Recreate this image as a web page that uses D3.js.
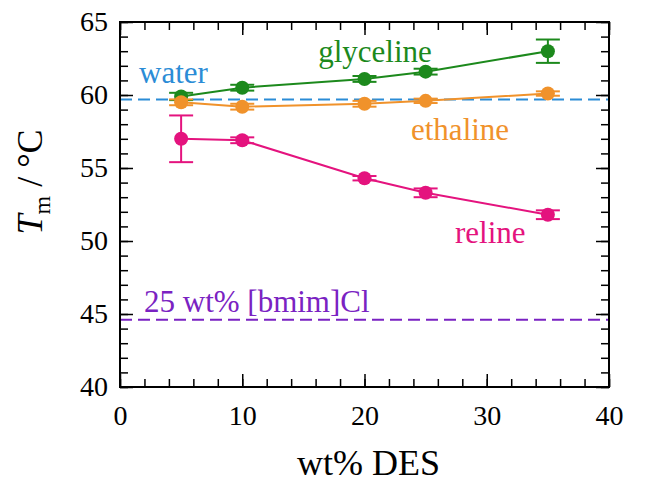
<!DOCTYPE html>
<html><head><meta charset="utf-8">
<script src="https://cdn.jsdelivr.net/npm/d3@7"></script>
<style>body{margin:0;background:#fff}text{font-family:"Liberation Serif","Times New Roman",serif}</style>
</head><body><svg id="c" width="656" height="484"></svg>
<script>
const xVals = [5, 10, 20, 25, 35];
const glyceline = [59.9, 60.5, 61.1, 61.6, 63.0];
const glycelineErr = [0.25, 0.2, 0.2, 0.2, 0.8];
const ethaline = [59.5, 59.2, 59.4, 59.6, 60.1];
const ethalineErr = [0.2, 0.2, 0.2, 0.15, 0.15];
const reline = [57.0, 56.9, 54.3, 53.3, 51.8];
const relineErr = [1.6, 0.2, 0.15, 0.3, 0.3];
const waterTm = 59.7;
const bmimTm = 44.6;
const xTicks = [0, 10, 20, 30, 40];
const yTicks = [40, 45, 50, 55, 60, 65];

const svg = d3.select("#c");
const L = 120, R = 609, T = 22, B = 387;
const x = d3.scaleLinear().domain([0, 40]).range([L, R]);
const y = d3.scaleLinear().domain([40, 65]).range([B, T]);

const cols = {gly: "#1c891c", eth: "#f0922b", rel: "#e4137e", water: "#2b8cd6", bmim: "#7a22c2"};

// reference lines
svg.append("line").attr("x1", x(0)).attr("x2", x(40)).attr("y1", y(waterTm)).attr("y2", y(waterTm))
  .attr("stroke", cols.water).attr("stroke-width", 2).attr("stroke-dasharray", "12,6");
svg.append("line").attr("x1", x(0)).attr("x2", x(40)).attr("y1", y(bmimTm)).attr("y2", y(bmimTm))
  .attr("stroke", cols.bmim).attr("stroke-width", 2).attr("stroke-dasharray", "12,6");

// axes with inward ticks
const minorX = d3.range(0, 41, 2), minorY = d3.range(40, 66, 1);
function tickAxis(axisFn, scale, vals, size, tr) {
  svg.append("g").attr("transform", tr)
    .call(axisFn(scale).tickValues(vals).tickSize(size).tickFormat(""))
    .call(g => { g.select(".domain").remove(); g.selectAll("line").attr("stroke", "#000").attr("stroke-width", 1.5); });
}
tickAxis(d3.axisTop, x, minorX, 8, `translate(0,${B})`);
tickAxis(d3.axisTop, x, xTicks, 13, `translate(0,${B})`);
tickAxis(d3.axisBottom, x, minorX, 8, `translate(0,${T})`);
tickAxis(d3.axisBottom, x, xTicks, 13, `translate(0,${T})`);
tickAxis(d3.axisRight, y, minorY, 8, `translate(${L},0)`);
tickAxis(d3.axisRight, y, yTicks, 13, `translate(${L},0)`);
tickAxis(d3.axisLeft, y, minorY, 8, `translate(${R},0)`);
tickAxis(d3.axisLeft, y, yTicks, 13, `translate(${R},0)`);

svg.append("rect").attr("x", L).attr("y", T).attr("width", R - L).attr("height", B - T)
  .attr("fill", "none").attr("stroke", "#000").attr("stroke-width", 2);

// tick labels
svg.append("g").attr("transform", `translate(0,${B})`)
  .call(d3.axisBottom(x).tickValues(xTicks).tickSize(0).tickPadding(18))
  .call(g => { g.select(".domain").remove(); g.selectAll("text").attr("font-size", 28).attr("fill", "#000").attr("font-family", "Liberation Serif"); });
svg.append("g").attr("transform", `translate(${L},0)`)
  .call(d3.axisLeft(y).tickValues(yTicks).tickSize(0).tickPadding(12))
  .call(g => { g.select(".domain").remove(); g.selectAll("text").attr("font-size", 28).attr("fill", "#000").attr("font-family", "Liberation Serif"); });

// series
const series = [
  {v: glyceline, e: glycelineErr, c: cols.gly},
  {v: ethaline, e: ethalineErr, c: cols.eth},
  {v: reline, e: relineErr, c: cols.rel}
];
const line = d3.line().x((d, i) => x(xVals[i])).y(d => y(d));
series.forEach(s => {
  svg.append("path").attr("d", line(s.v)).attr("fill", "none").attr("stroke", s.c).attr("stroke-width", 2);
  const g = svg.append("g");
  s.v.forEach((v, i) => {
    const cx = x(xVals[i]);
    g.append("line").attr("x1", cx).attr("x2", cx).attr("y1", y(v - s.e[i])).attr("y2", y(v + s.e[i])).attr("stroke", s.c).attr("stroke-width", 2);
    [v - s.e[i], v + s.e[i]].forEach(yy => g.append("line").attr("x1", cx - 12).attr("x2", cx + 12).attr("y1", y(yy)).attr("y2", y(yy)).attr("stroke", s.c).attr("stroke-width", 2));
    g.append("circle").attr("cx", cx).attr("cy", y(v)).attr("r", 7).attr("fill", s.c);
  });
});

// annotations
const ann = [
  {t: "glyceline", x: 375, y: 62, c: cols.gly, a: "middle"},
  {t: "water", x: 139, y: 83, c: cols.water, a: "start"},
  {t: "ethaline", x: 411, y: 140, c: cols.eth, a: "start"},
  {t: "reline", x: 455, y: 243, c: cols.rel, a: "start"},
  {t: "25 wt% [bmim]Cl", x: 144, y: 312, c: cols.bmim, a: "start"}
];
ann.forEach(a => svg.append("text").attr("x", a.x).attr("y", a.y).attr("fill", a.c)
  .attr("font-size", 31).attr("text-anchor", a.a).text(a.t));

// axis titles
svg.append("text").attr("x", (L + R) / 2 + 4).attr("y", 475).attr("text-anchor", "middle").attr("font-size", 36).text("wt% DES");
const yt = svg.append("text").attr("transform", `translate(42,182) rotate(-90)`).attr("text-anchor", "middle").attr("font-size", 36);
yt.append("tspan").attr("font-style", "italic").text("T");
yt.append("tspan").attr("font-size", 24).attr("dy", 8).text("m");
yt.append("tspan").attr("dy", -8).text(" / °C");
</script></body></html>
